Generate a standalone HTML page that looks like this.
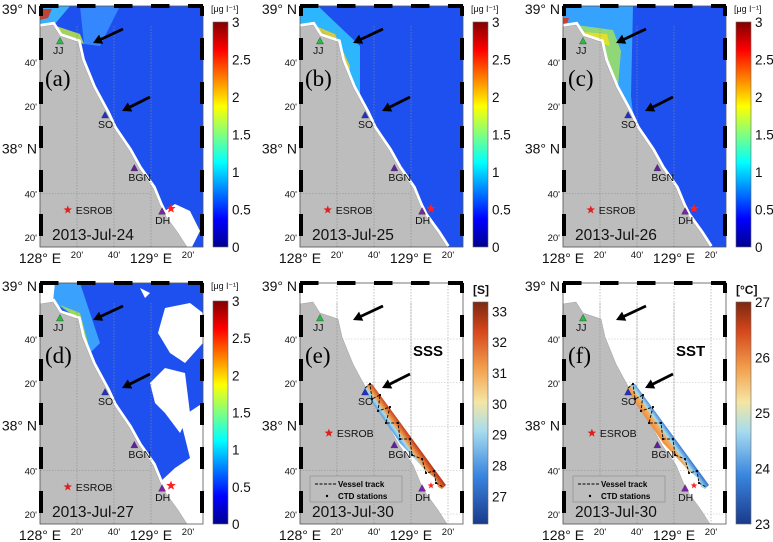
<!DOCTYPE html>
<html><head><meta charset="utf-8"><style>
html,body{margin:0;padding:0;background:#fff;}
svg{display:block;font-family:"Liberation Sans",sans-serif;}
</style></head><body>
<svg id="fig" width="773" height="542" viewBox="0 0 773 542" xmlns="http://www.w3.org/2000/svg">
<defs>
<linearGradient id="jet" x1="0" y1="1" x2="0" y2="0">
<stop offset="0" stop-color="#00008f"/><stop offset="0.125" stop-color="#0000ff"/><stop offset="0.375" stop-color="#00ffff"/><stop offset="0.625" stop-color="#ffff00"/><stop offset="0.875" stop-color="#ff0000"/><stop offset="1" stop-color="#800000"/>
</linearGradient>
<linearGradient id="div" x1="0" y1="1" x2="0" y2="0">
<stop offset="0" stop-color="#1a3a8c"/><stop offset="0.22" stop-color="#3a86e0"/><stop offset="0.42" stop-color="#a8dcee"/><stop offset="0.55" stop-color="#f4e6a4"/><stop offset="0.7" stop-color="#f3a04e"/><stop offset="0.87" stop-color="#d5461c"/><stop offset="1" stop-color="#7a2810"/>
</linearGradient>
<linearGradient id="stripE" gradientUnits="userSpaceOnUse" x1="98" y1="157" x2="108" y2="150">
<stop offset="0" stop-color="#4a9be8"/><stop offset="0.3" stop-color="#a8dcee"/><stop offset="0.5" stop-color="#f3a04e"/><stop offset="1" stop-color="#c03a18"/>
</linearGradient>
<linearGradient id="stripF" gradientUnits="userSpaceOnUse" x1="98" y1="157" x2="108" y2="150">
<stop offset="0" stop-color="#f08a3a"/><stop offset="0.45" stop-color="#f3b060"/><stop offset="0.6" stop-color="#a8dcee"/><stop offset="1" stop-color="#3a80d8"/>
</linearGradient>
</defs>
</svg>
<script>
// ----- data -----
const panelIds = ['a','b','c','d','e','f'];
const panelDates = ['2013-Jul-24','2013-Jul-25','2013-Jul-26','2013-Jul-27','2013-Jul-30','2013-Jul-30'];
const chlTicks = [0,0.5,1,1.5,2,2.5,3];
const chlTickLabels = ['0','0.5','1','1.5','2','2.5','3'];
const sssTicks = [27,28,29,30,31,32,33];
const sstTicks = [23,24,25,26,27];
const stationNames = ['JJ','SO','BGN','DH'];
const stationLon = [128.18,128.586,128.85,129.10];
const stationLat = [38.827,38.263,37.86,37.53];
const stationColor = ['#22c040','#2030d0','#6020a0','#8020b0'];
const esrobLonLat = [128.25,37.54];
const esrobLonLatEF = [128.26,37.95];
const latTickLabels = ["39° N","40'","20'","38° N","40'","20'"];
const latTickValues = [39.0,38.6667,38.3333,38.0,37.6667,37.3333];
const lonTickLabels = ["128° E","20'","40'","129° E","20'"];
const lonTickValues = [128.0,128.3333,128.6667,129.0,129.3333];

// ----- geometry -----
const colX=[40,300,563], rowY=[6,283], W=163, H=241;
const lonX = lon => (lon-128)*111;
const latY = lat => 56+(38.6667-lat)*131.25;
const coast = [[0,21],[13,19],[20,30],[38,36],[42,54],[53,81],[67,107],[74,122],[89,144],[99,162],[113,182],[120,199],[125,209],[138,227],[147,241],[0,241]];
const NS='http://www.w3.org/2000/svg';
const fig=document.getElementById('fig');
function mk(tag,attrs,parent){const e=document.createElementNS(NS,tag);for(const k in attrs)e.setAttribute(k,attrs[k]);(parent||fig).appendChild(e);return e;}
function txt(s,attrs,parent){const e=mk('text',attrs,parent);e.textContent=s;return e;}
const coastStr=coast.map(p=>p.join(',')).join(' ');
const oceanEdge = coast.slice(0,15);
function starPath(cx,cy,r){let d='';for(let i=0;i<10;i++){const a=-Math.PI/2+i*Math.PI/5,rr=i%2?r*0.42:r;d+=(i?'L':'M')+(cx+rr*Math.cos(a)).toFixed(1)+','+(cy+rr*Math.sin(a)).toFixed(1);}return d+'Z';}

panelIds.forEach((id,i)=>{
  const ox=colX[i%3], oy=rowY[Math.floor(i/3)];
  const g=mk('g',{transform:`translate(${ox},${oy})`});
  
  
  const isChl=i<4;
  const ocean=mk('rect',{x:0,y:0,width:W,height:H,fill:isChl?'#1e50f0':'#ffffff'},g);
  
  
  if(isChl){
    const bands={
      a:[['M0,0 L30,0 L14,19 L0,21Z','#40c0ff'],['M0,3 L12,3 L8,12 L0,14Z','#d83010'],['M13,19 L40,28 L44,38 L38,36 L20,30Z','#c0e840'],['M40,0 L80,0 L60,40 L44,38Z','#3a90ff']],
      b:[['M0,0 L18,0 L60,40 L60,100 L42,54 L38,36 L13,19 L0,21Z','#30c8ff'],['M13,19 L35,28 L50,60 L48,90 L42,54 L38,36 L20,30Z','#f0d020'],['M20,30 L30,32 L36,40 L30,38Z','#f05010']],
      c:[['M0,0 L70,0 L68,90 L70,108 L53,81 L42,54 L38,36 L13,19 L0,21Z','#3ab0ff'],['M13,19 L50,24 L58,45 L55,80 L66,104 L53,81 L42,54 L38,36 L20,30Z','#a0e060'],['M20,26 L44,28 L47,40 L40,38Z','#f0e020'],['M0,12 L6,12 L4,18 L0,20Z','#e03010']],
      d:[['M15,0 L40,0 L60,60 L50,70 L42,54 L38,36 L13,19Z','#40b0ff'],['M20,22 L40,30 L48,60 L42,54 L38,36Z','#b0e040']]
    }[id];
    bands.forEach(b=>{const p=mk('path',{d:b[0],fill:b[1],opacity:0.85},g);});
    if(id==='a'){const w=mk('path',{d:'M125,205 L135,198 L150,205 L160,225 L152,241 L140,241Z',fill:'#fff'},g);}
    if(id==='d'){
      ['M0,0 L15,0 L13,19 L0,21Z','M125,25 L150,20 L163,30 L163,60 L145,80 L130,70 L118,50Z','M110,100 L125,85 L145,90 L150,130 L140,150 L125,130 L115,120Z','M140,135 L163,120 L163,241 L147,241 L138,227 L125,209 L120,199 L135,185 L150,175Z','M100,5 L110,10 L105,15Z'].forEach(d=>{const w=mk('path',{d,fill:'#fff'},g);});
    }
  }
  [37,74,111,148].forEach(x=>{const l=mk('line',{x1:x,y1:0,x2:x,y2:H,stroke:'#999','stroke-width':0.6,'stroke-dasharray':'1.5,1.5',opacity:isChl?0:1},g);});
  latTickValues.slice(1).forEach(v=>{const y=latY(v);const l=mk('line',{x1:0,y1:y,x2:W,y2:y,stroke:'#bbb','stroke-width':0.6,'stroke-dasharray':'1.5,1.5',opacity:isChl?0:1},g);});
  const band=mk('polyline',{points:oceanEdge.map(p=>p.join(',')).join(' '),fill:'none',stroke:'#fff','stroke-width':isChl?6:0},g);
  
  const land=mk('polygon',{points:coastStr,fill:'#bdbdbd',stroke:'#a0a0a0','stroke-width':0.5},g);
  
  [37,74,111].forEach(x=>{const l=mk('line',{x1:x,y1:20,x2:x,y2:H,stroke:'#8a8a8a','stroke-width':0.6,'stroke-dasharray':'1.5,1.5'},g);});
  [latY(37.6667)].forEach(y=>{const l=mk('line',{x1:0,y1:y,x2:110,y2:y,stroke:'#8a8a8a','stroke-width':0.6,'stroke-dasharray':'1.5,1.5'},g);});
  if(!isChl){
    const s=mk('polygon',{points:'64,106 68,101 72,101 146,202 142,206 138,204 136,196 126,188 100,160 74,122',fill:id==='e'?'url(#stripE)':'url(#stripF)'},g);
    
    const tr=mk('polyline',{points:'65,105 70,101 72,116 80,112 78,128 90,124 86,140 98,140 100,156 110,156 112,172 122,176 126,190 134,188 136,200 143,204',fill:'none',stroke:'#111','stroke-width':1,'stroke-dasharray':'3,1.5'},g);
    
    [[70,101],[72,116],[80,112],[78,128],[90,124],[86,140],[98,140],[100,156],[110,156],[112,172],[122,176],[126,190],[134,188],[136,200]].forEach(p=>{const c=mk('circle',{cx:p[0],cy:p[1],r:1.1,fill:'#000'},g);});
    const lg=mk('g',{},g);
    mk('rect',{x:10,y:193,width:92,height:26,fill:'#bdbdbd',stroke:'#888','stroke-width':0.6},lg);
    mk('line',{x1:15,y1:201,x2:36,y2:201,stroke:'#000','stroke-width':1,'stroke-dasharray':'3,1.5'},lg);
    txt('Vessel track',{x:38,y:204,'font-size':8,'font-weight':'bold'},lg);
    mk('circle',{cx:27,cy:213,r:1.2,fill:'#000'},lg);
    txt('CTD stations',{x:38,y:216,'font-size':8,'font-weight':'bold'},lg);
    const big=txt(id==='e'?'SSS':'SST',{x:113,y:73,'font-size':15,'font-weight':'bold'},g);
    
  }
  stationNames.forEach((n,k)=>{
    const x=lonX(stationLon[k]),y=latY(stationLat[k]);
    const t=mk('polygon',{points:`${x-3.5},${y+3} ${x+3.5},${y+3} ${x},${y-3.5}`,fill:stationColor[k],stroke:'#333','stroke-width':0.4},g);
    
    const lbl=txt(n,{x:x-(n==='BGN'?6:7),y:y+13,'font-size':10.5,fill:'#111'},g);
    
  });
  const es=(isChl?esrobLonLat:esrobLonLatEF);
  const ex=lonX(es[0]),ey=latY(es[1]);
  const st=mk('path',{d:starPath(ex,ey,4.5),fill:'#e02020'},g);
  const el=txt('ESROB',{x:ex+8,y:ey+4,'font-size':10.5,fill:'#111'},g);
  const st2=mk('path',{d:starPath(lonX(129.18),latY(37.55),isChl?5:3.5),fill:'#ff2020'},g);
  [[83,23,53,37],[110,91,82,105]].forEach(a=>{
    const ar=mk('g',{},g);
    const dx=a[2]-a[0],dy=a[3]-a[1],L=Math.hypot(dx,dy),ux=dx/L,uy=dy/L;
    mk('line',{x1:a[0],y1:a[1],x2:a[2]-ux*6,y2:a[3]-uy*6,stroke:'#000','stroke-width':2.8},ar);
    mk('polygon',{points:`${a[2]},${a[3]} ${a[2]-ux*9-uy*5},${a[3]-uy*9+ux*5} ${a[2]-ux*9+uy*5},${a[3]-uy*9-ux*5}`,fill:'#000'},ar);
  });
  const pl=txt('('+id+')',{x:5,y:80,'font-size':23,'font-family':'"Liberation Serif",serif'},g);
  
  const dt=txt(panelDates[i],{x:12,y:234,'font-size':15.5,fill:'#111'},g);
  
  mk('rect',{x:0,y:0,width:W,height:H,fill:'none',stroke:'#555','stroke-width':0.8},g);
  const fr=mk('g',{},g);
  mk('line',{x1:0,y1:0,x2:W,y2:0,stroke:'#000','stroke-width':4,'stroke-dasharray':'18.5,18.5','stroke-dashoffset':'0'},fr);
  mk('line',{x1:1,y1:0,x2:1,y2:H,stroke:'#000','stroke-width':4,'stroke-dasharray':'22,22','stroke-dashoffset':'12'},fr);
  mk('line',{x1:W-1,y1:0,x2:W-1,y2:H,stroke:'#000','stroke-width':4,'stroke-dasharray':'22,22','stroke-dashoffset':'12'},fr);
  latTickLabels.forEach((s,k)=>{
    const y=latTickValues[k]===39?4:latY(latTickValues[k]);
    const big=s.includes('N');
    const t=txt(s,{x:-3,y:y+4,'text-anchor':'end','font-size':big?14:9.5,fill:'#111'},g);
    
  });
  lonTickLabels.forEach((s,k)=>{
    const x=lonX(lonTickValues[k]);
    const big=s.includes('E');
    const t=txt(s,{x:x,y:big?H+16:H+11,'text-anchor':'middle','font-size':big?14:9.5,fill:'#111'},g);
    
  });
  const cb=mk('g',{},g);
  const cbx=173, cbTop=isChl?(i<3?16:18):19, cbBot=H, cbw=15;
  mk('rect',{x:cbx,y:cbTop,width:cbw,height:cbBot-cbTop,fill:isChl?'url(#jet)':'url(#div)',stroke:'#666','stroke-width':0.6},cb);
  let ticks, lab, vmin, vmax;
  if(isChl){ticks=chlTicks;lab=chlTickLabels;vmin=0;vmax=3;}
  else if(id==='e'){ticks=sssTicks;lab=sssTicks.map(String);vmin=26.1;vmax=33.3;}
  else {ticks=sstTicks;lab=sstTicks.map(String);vmin=23;vmax=27;}
  ticks.forEach((v,k)=>{
    const y=cbBot-(v-vmin)/(vmax-vmin)*(cbBot-cbTop);
    const t=txt(lab[k],{x:cbx+cbw+4,y:y+5,'font-size':13.5,fill:'#111'},cb);
    
  });
  const unit=isChl?'[\u03BCg l\u207B\u00B9]':(id==='e'?'[S]':'[\u00B0C]');
  const ut=txt(unit,{x:cbx+(isChl?-2:0),y:isChl?6:11,'font-size':isChl?9:12,'font-weight':isChl?'normal':'bold',fill:'#111'},cb);
  
});
</script>
</body></html>
